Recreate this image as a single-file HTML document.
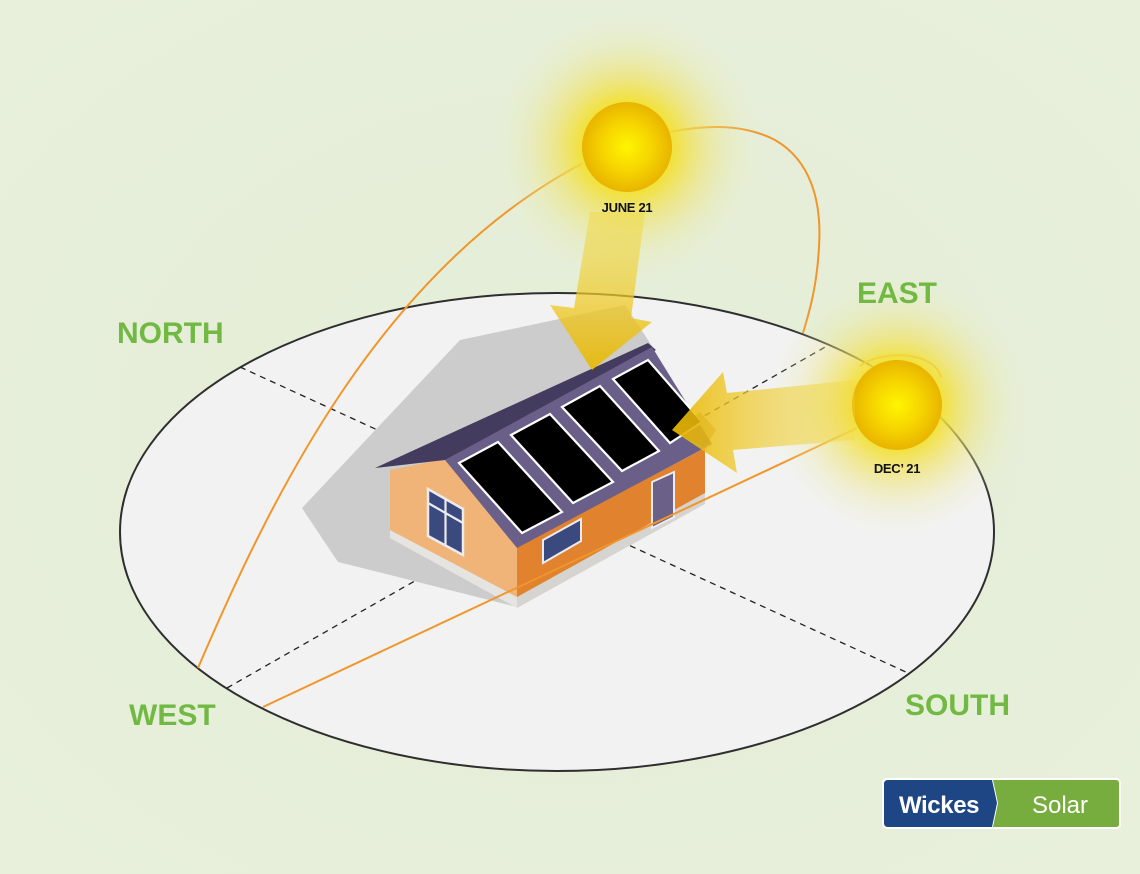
<!DOCTYPE html>
<html>
<head>
<meta charset="utf-8">
<style>
  html,body{margin:0;padding:0;background:#e5eed8;}
  svg{display:block;}
  text{font-family:"Liberation Sans",Arial,sans-serif;}
</style>
</head>
<body>
<svg width="1140" height="874" viewBox="0 0 1140 874" xmlns="http://www.w3.org/2000/svg">
  <defs>
    <radialGradient id="bg" cx="50%" cy="50%" r="75%">
      <stop offset="0" stop-color="#e4edd6"/>
      <stop offset="1" stop-color="#e8f0dc"/>
    </radialGradient>
    <radialGradient id="glowJ" cx="627" cy="147" r="135" gradientUnits="userSpaceOnUse">
      <stop offset="0" stop-color="#f5e000" stop-opacity="1"/>
      <stop offset="0.35" stop-color="#f3e030" stop-opacity="0.9"/>
      <stop offset="0.55" stop-color="#f0e266" stop-opacity="0.6"/>
      <stop offset="0.8" stop-color="#eae9a0" stop-opacity="0.25"/>
      <stop offset="1" stop-color="#e8ecc0" stop-opacity="0"/>
    </radialGradient>
    <radialGradient id="glowD" cx="897" cy="405" r="130" gradientUnits="userSpaceOnUse">
      <stop offset="0" stop-color="#f5e000" stop-opacity="1"/>
      <stop offset="0.35" stop-color="#f3e030" stop-opacity="0.9"/>
      <stop offset="0.55" stop-color="#f0e266" stop-opacity="0.6"/>
      <stop offset="0.8" stop-color="#eae9a0" stop-opacity="0.25"/>
      <stop offset="1" stop-color="#e8ecc0" stop-opacity="0"/>
    </radialGradient>
    <radialGradient id="sun" cx="50%" cy="50%" r="50%">
      <stop offset="0" stop-color="#fff500"/>
      <stop offset="0.55" stop-color="#f6d400"/>
      <stop offset="1" stop-color="#e8b400"/>
    </radialGradient>
    <linearGradient id="arrJ" x1="0" y1="205" x2="0" y2="370" gradientUnits="userSpaceOnUse">
      <stop offset="0" stop-color="#f2d83a" stop-opacity="0.4"/>
      <stop offset="0.55" stop-color="#efcb2a" stop-opacity="0.72"/>
      <stop offset="1" stop-color="#e8b800" stop-opacity="0.9"/>
    </linearGradient>
    <linearGradient id="arrD" x1="672" y1="0" x2="860" y2="0" gradientUnits="userSpaceOnUse">
      <stop offset="0" stop-color="#e8b800" stop-opacity="0.92"/>
      <stop offset="0.35" stop-color="#efc82a" stop-opacity="0.75"/>
      <stop offset="1" stop-color="#f2d83a" stop-opacity="0.3"/>
    </linearGradient>
  </defs>

  <!-- background -->
  <rect x="0" y="0" width="1140" height="874" fill="url(#bg)"/>

  <!-- ground ellipse -->
  <ellipse cx="557" cy="532" rx="437" ry="239" fill="#f2f2f2" stroke="#2e2e2e" stroke-width="2"/>

  <!-- dashed axes -->
  <line x1="240" y1="367" x2="908" y2="673" stroke="#222" stroke-width="1.3" stroke-dasharray="6 5"/>
  <line x1="227" y1="688" x2="827" y2="346" stroke="#222" stroke-width="1.3" stroke-dasharray="6 5"/>

  <!-- shadow -->
  <polygon points="460,340 625,305 652,346 708,448 517,607 338,562 302,508" fill="#cccccc"/>

  <!-- house base strips -->
  <polygon points="390,530 517,597 517,608 390,538" fill="#e6e4e0"/>
  <polygon points="517,597 705,493 705,504 517,608" fill="#d6d4d0"/>

  <!-- gable wall -->
  <polygon points="390,470 445,459 517,547 517,597 390,530" fill="#f0b478"/>
  <!-- front wall -->
  <polygon points="517,547 705,448 705,493 517,597" fill="#e0822e"/>

  <!-- gable window -->
  <polygon points="428,489 463,509 463,555 428,536" fill="#3b4a7e" stroke="#ebebf0" stroke-width="2.5" stroke-linejoin="miter"/>
  <line x1="445.5" y1="499" x2="445.5" y2="546" stroke="#ebebf0" stroke-width="2.2"/>
  <line x1="428" y1="503" x2="463" y2="523" stroke="#ebebf0" stroke-width="2.2"/>

  <!-- front window -->
  <polygon points="543,540 581,519 581,541 543,563" fill="#3b4a7e" stroke="#ebebf0" stroke-width="2"/>

  <!-- door -->
  <polygon points="652,482 674,472 674,517 652,528" fill="#6a6088" stroke="#ebebf0" stroke-width="2"/>

  <!-- roof dark part -->
  <polygon points="375,468 648,343 656,350 445,460" fill="#433c5f"/>
  <!-- roof front slope -->
  <polygon points="445,460 652,347 712,444 517,548" fill="#6a5f88"/>

  <!-- solar panels -->
  <g fill="#000" stroke="#ffffff" stroke-width="2.2" stroke-linejoin="miter">
    <polygon points="459,463 498,442 562,512 522,533"/>
    <polygon points="511,435 550,414 613,482 573,503"/>
    <polygon points="562,407 600,386 659,451 622,471"/>
    <polygon points="613,379 648,360 702,422 670,443"/>
  </g>

  <!-- orange sun paths -->
  <path d="M198,668 C270,500 380,270 583,163" fill="none" stroke="#f0962a" stroke-width="2"/>
  <path d="M670,132 C700,126 740,122 775,140 C810,160 822,200 819,247 C817,285 810,310 803,333" fill="none" stroke="#f0962a" stroke-width="2"/>
  <line x1="263" y1="707" x2="857" y2="428" stroke="#f0962a" stroke-width="2"/>
  <path d="M860,366 C880,350 935,350 941,378" fill="none" stroke="#f0962a" stroke-width="2"/>

  <!-- glows -->
  <circle cx="627" cy="147" r="135" fill="url(#glowJ)"/>
  <circle cx="897" cy="405" r="130" fill="url(#glowD)"/>

  <!-- suns -->
  <circle cx="627" cy="147" r="45" fill="url(#sun)"/>
  <circle cx="897" cy="405" r="45" fill="url(#sun)"/>

  <!-- sun labels -->
  <text x="627" y="212" text-anchor="middle" font-size="13" font-weight="bold" fill="#111" letter-spacing="-0.3">JUNE 21</text>
  <text x="897" y="473" text-anchor="middle" font-size="13" font-weight="bold" fill="#111" letter-spacing="-0.3">DEC’ 21</text>

  <!-- arrows -->
  <polygon points="590,212 645,212 631,318 652,322 592,370 550,305 574,308" fill="url(#arrJ)"/>
  <polygon points="855,380 727,393 723,372 672,430 737,473 733,450 855,440" fill="url(#arrD)"/>
  <polygon points="672,430 700,412 716,430 705,447" fill="#d9a60a" fill-opacity="0.35"/>

  <!-- compass labels -->
  <g font-size="30" font-weight="bold" fill="#72b944">
    <text x="117" y="343">NORTH</text>
    <text x="857" y="303">EAST</text>
    <text x="129" y="725">WEST</text>
    <text x="905" y="715">SOUTH</text>
  </g>

  <!-- logo -->
  <rect x="882" y="778" width="239" height="51" rx="5" fill="#ffffff"/>
  <path d="M993,780 L1116,780 Q1119,780 1119,783 L1119,824 Q1119,827 1116,827 L993,827 L998,803 Z" fill="#77ad3f"/>
  <path d="M888,780 L992,780 L997,803 L992,827 L888,827 Q884,827 884,823 L884,784 Q884,780 888,780 Z" fill="#1e4685"/>
  <text x="899" y="813" font-size="24" font-weight="bold" fill="#ffffff" letter-spacing="-0.4">Wickes</text>
  <text x="1060" y="813" text-anchor="middle" font-size="24" fill="#ffffff">Solar</text>
</svg>
</body>
</html>
